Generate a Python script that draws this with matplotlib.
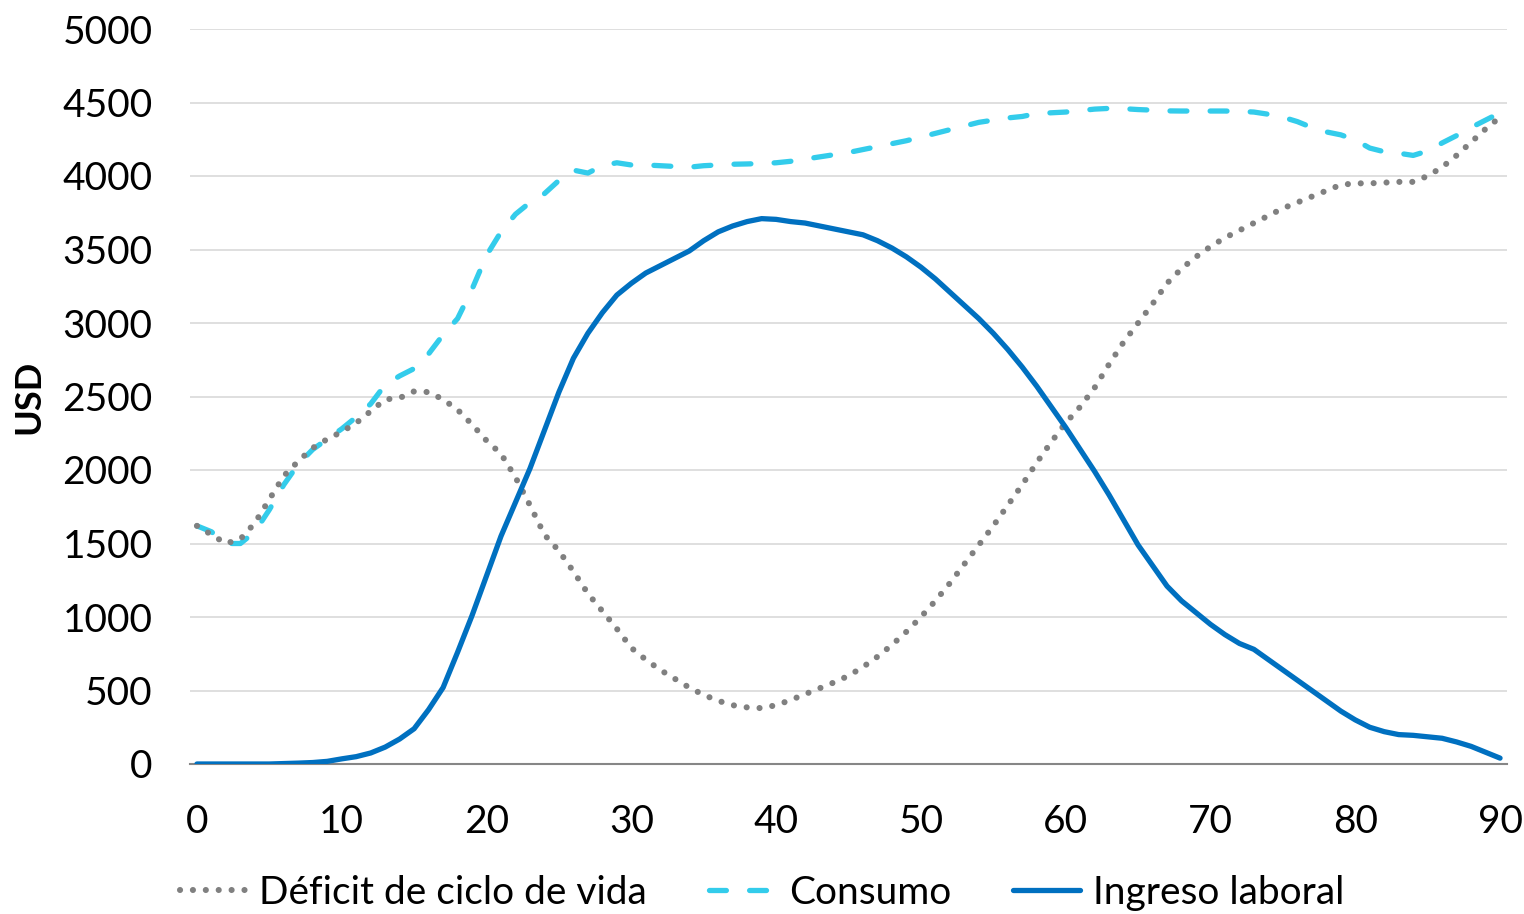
import matplotlib.pyplot as plt

plt.rcParams['font.family'] = ['Lato', 'DejaVu Sans']

edad = list(range(0, 91))

ingreso = [0, 0, 0, 0, 0, 0, 3, 6, 10, 18, 35, 50, 75, 115, 170, 240, 370, 520, 760, 1010,
           1280, 1550, 1780, 2010, 2270, 2530, 2760, 2930, 3070, 3190, 3270, 3340, 3390, 3440, 3490,
           3560, 3620, 3660, 3690, 3710, 3705, 3690, 3680, 3660, 3640, 3620, 3600, 3560, 3510,
           3450, 3380, 3300, 3210, 3120, 3030, 2930, 2820, 2700, 2570, 2430, 2290, 2140, 1990,
           1830, 1660, 1490, 1350, 1210, 1110, 1030, 950, 880, 820, 780, 710, 640, 570, 500,
           430, 360, 300, 250, 220, 200, 195, 185, 175, 150, 120, 80, 40]

consumo = [1620, 1580, 1500, 1500, 1580, 1730, 1900, 2040, 2140, 2210, 2280, 2360, 2450,
           2580, 2640, 2690, 2790, 2920, 3030, 3230, 3460, 3620, 3740, 3820, 3880, 3970, 4040,
           4020, 4070, 4090, 4075, 4075, 4070, 4065, 4060, 4070, 4075, 4080, 4082, 4085, 4090,
           4100, 4115, 4130, 4145, 4160, 4180, 4200, 4220, 4240, 4265, 4290, 4315, 4340, 4365,
           4380, 4395, 4405, 4425, 4430, 4435, 4445, 4455, 4460, 4458, 4452, 4448, 4443, 4442,
           4442, 4442, 4442, 4440, 4435, 4420, 4400, 4370, 4330, 4300, 4280, 4245, 4190, 4165,
           4155, 4140, 4170, 4225, 4275, 4330, 4380, 4430]

deficit = [1620, 1560, 1500, 1530, 1640, 1800, 1960, 2060, 2150, 2210, 2260, 2320, 2400,
           2480, 2490, 2535, 2530, 2480, 2410, 2310, 2200, 2110, 1950, 1760, 1560, 1450, 1310,
           1160, 1040, 920, 790, 710, 640, 580, 520, 470, 430, 400, 385, 380, 400, 435, 475,
           515, 555, 600, 660, 730, 810, 900, 1000, 1110, 1230, 1360, 1490, 1620, 1760, 1900,
           2050, 2190, 2320, 2430, 2560, 2720, 2870, 3000, 3130, 3270, 3370, 3450, 3520, 3580,
           3630, 3680, 3730, 3780, 3820, 3860, 3900, 3940, 3950, 3950, 3955, 3960, 3960, 4000,
           4060, 4140, 4230, 4320, 4400]

fig = plt.figure(figsize=(15.24, 9.14), dpi=100)
ax = fig.add_axes([190 / 1524, 1 - 764 / 914, (1507 - 190) / 1524, (764 - 29) / 914])

lw = 3.8
ax.plot(edad, deficit, color='#808080', lw=4.4, dashes=(0.01, 2.1), dash_capstyle='round',
        label='Déficit de ciclo de vida', zorder=3)
ax.plot(edad, consumo, color='#33CCEB', lw=lw, dashes=(3.2, 4.4), dash_capstyle='round',
        label='Consumo', zorder=2)
ax.plot(edad, ingreso, color='#0070C0', lw=lw, solid_capstyle='round',
        label='Ingreso laboral', zorder=4)

ax.set_xlim(-0.48, 90.48)
ax.set_ylim(0, 5000)
ax.set_xticks(range(0, 91, 10))
ax.set_yticks(range(0, 5001, 500))
ax.grid(axis='y', color='#D9D9D9', lw=1.2)
ax.set_axisbelow(True)
for s in ['top', 'right', 'left']:
    ax.spines[s].set_visible(False)
ax.spines['bottom'].set_color('#868686')
ax.spines['bottom'].set_linewidth(1.5)
ax.tick_params(length=0, labelsize=28)
ax.tick_params(axis='y', pad=27)
ax.tick_params(axis='x', pad=29)
ax.set_ylabel('USD', fontsize=26, fontweight='bold', labelpad=12)

fig.legend(loc='center', bbox_to_anchor=(0.5, 1 - 893 / 914), ncol=3, frameon=False,
           fontsize=28, handlelength=1.7, columnspacing=1.6, handletextpad=0.35)

fig.savefig('out.png', dpi=100)
